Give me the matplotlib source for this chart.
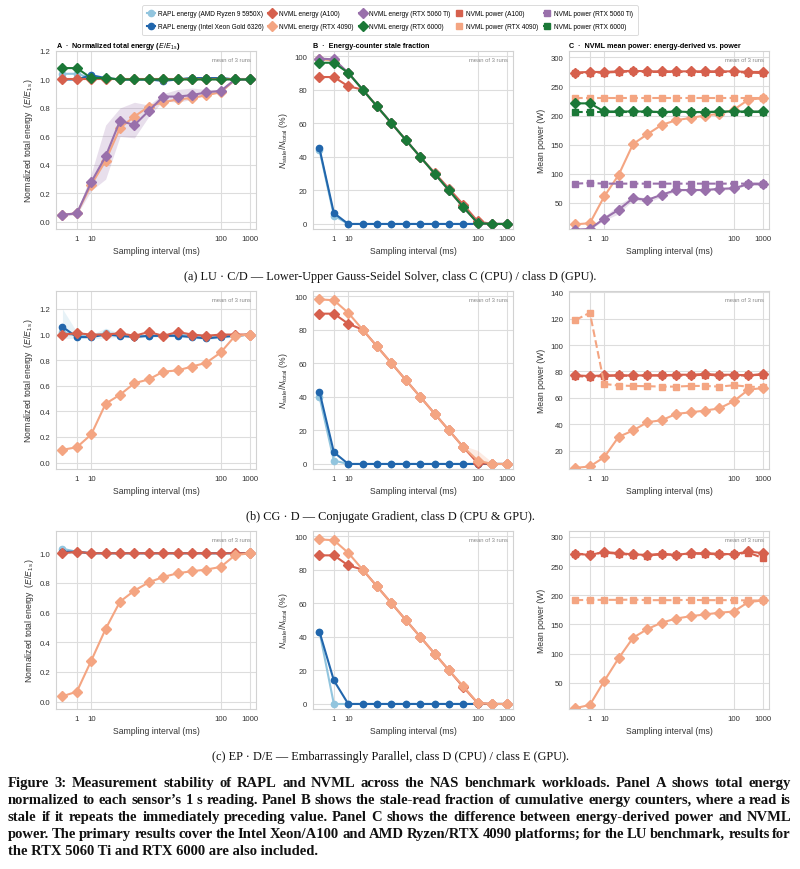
import numpy as np
import matplotlib.pyplot as plt

plt.rcParams['font.family'] = ['Liberation Sans', 'DejaVu Sans']
plt.rcParams['mathtext.fontset'] = 'custom'
plt.rcParams['mathtext.rm'] = 'Liberation Sans'
plt.rcParams['mathtext.it'] = 'Liberation Sans:italic'
plt.rcParams['mathtext.bf'] = 'Liberation Sans:bold'

# sampling intervals (ms), drawn as evenly spaced categories
intervals = [0.5, 1, 10, 20, 30, 40, 50, 60, 70, 80, 90, 100, 500, 1000]
tick_vals = [1, 10, 100, 1000]

# ---- LU (row a) ----
lu_e_amd = [1.04, 1.04, 1.01, 1.01, 1.00, 1.00, 1.00, 1.00, 1.00, 1.01, 1.01, 1.01, 1.00, 1.00]
lu_e_intel = [1.00, 1.00, 1.03, 1.01, 1.00, 1.00, 1.00, 0.99, 1.00, 1.01, 1.01, 1.01, 1.00, 1.00]
lu_e_a100 = [1.00, 1.00, 1.00, 1.00, 1.00, 1.00, 1.00, 1.00, 1.00, 1.00, 1.00, 1.00, 1.00, 1.00]
lu_e_4090 = [0.05, 0.06, 0.26, 0.43, 0.66, 0.74, 0.81, 0.84, 0.86, 0.87, 0.89, 0.91, 1.00, 1.00]
lu_e_5060 = [0.05, 0.06, 0.28, 0.46, 0.71, 0.68, 0.78, 0.88, 0.88, 0.89, 0.91, 0.92, 1.00, 1.00]
lu_e_5060_lo = [0.04, 0.05, 0.22, 0.30, 0.60, 0.59, 0.74, 0.85, 0.84, 0.86, 0.89, 0.91, 0.99, 1.00]
lu_e_5060_hi = [0.06, 0.07, 0.34, 0.68, 0.80, 0.84, 0.82, 0.90, 0.93, 0.94, 0.93, 0.93, 1.01, 1.00]
lu_e_6000 = [1.08, 1.08, 1.01, 1.01, 1.00, 1.00, 1.00, 1.00, 1.00, 1.00, 1.00, 1.00, 1.00, 1.00]

lu_s_amd = [44, 5, 0, 0, 0, 0, 0, 0, 0, 0, 0, 0, 0, 0]
lu_s_intel = [45, 6.5, 0, 0, 0, 0, 0, 0, 0, 0, 0, 0, 0, 0]
lu_s_a100 = [87.5, 87.5, 82, 80, 70, 60, 50, 40, 30.5, 21, 11.5, 1.5, 0, 0]
lu_s_4090 = [98, 97.5, 90, 80, 70, 60, 50, 40, 30, 20, 10, 0.5, 0, 0]
lu_s_5060 = [98.5, 98, 90, 80, 70, 60, 50, 40, 30, 20, 10, 0.5, 0, 0]
lu_s_6000 = [96, 96, 90, 80, 70, 60, 50, 40, 30, 20, 10, 0.5, 0, 0]

lu_pe_a100 = [274, 275, 275, 276, 277, 276, 276, 276, 276, 276, 276, 276, 275, 275]
lu_pp_a100 = [273, 274, 274, 275, 276, 275, 275, 275, 275, 275, 275, 275, 274, 273]
lu_pe_4090 = [13, 15, 61, 98, 151, 168, 184, 192, 196, 200, 203, 210, 227, 230]
lu_pp_4090 = [231, 231, 231, 231, 231, 231, 231, 231, 231, 231, 231, 231, 231, 231]
lu_pe_5060 = [4, 5, 23, 38, 58, 55, 64, 72, 72, 72, 74, 75, 82, 82]
lu_pe_5060_lo = [3, 4, 20, 31, 55, 51, 60, 70, 71, 71, 72, 73, 81, 81]
lu_pe_5060_hi = [5, 6, 26, 47, 62, 58, 66, 74, 74, 74, 76, 77, 83, 83]
lu_pp_5060 = [83, 84, 83, 83, 83, 83, 83, 83, 83, 83, 83, 83, 83, 83]
lu_pe_6000 = [221, 221, 207, 207, 207, 207, 206, 207, 206, 206, 207, 207, 207, 207]
lu_pp_6000 = [206, 206, 206, 206, 206, 206, 206, 206, 206, 206, 206, 206, 206, 206]

# ---- CG (row b) ----
cg_e_amd = [1.02, 0.99, 0.99, 1.01, 1.00, 0.99, 0.99, 0.99, 1.00, 0.99, 0.99, 0.99, 0.99, 1.00]
cg_e_amd_lo = [0.97, 0.97, 0.97, 0.97, 0.98, 0.97, 0.98, 0.98, 0.98, 0.97, 0.96, 0.97, 0.98, 1.00]
cg_e_amd_hi = [1.20, 1.02, 1.00, 1.05, 1.01, 1.00, 1.00, 1.00, 1.01, 1.00, 0.99, 1.00, 1.00, 1.00]
cg_e_intel = [1.06, 0.98, 0.98, 1.00, 0.99, 0.98, 0.99, 0.99, 0.99, 0.98, 0.97, 0.98, 0.99, 1.00]
cg_e_a100 = [1.00, 1.01, 1.00, 1.00, 1.01, 0.99, 1.02, 0.99, 1.02, 1.00, 0.99, 1.00, 1.00, 1.00]
cg_e_4090 = [0.10, 0.12, 0.22, 0.46, 0.53, 0.62, 0.65, 0.71, 0.72, 0.75, 0.78, 0.86, 0.99, 1.00]

cg_s_amd = [40, 2, 0, 0, 0, 0, 0, 0, 0, 0, 0, 0, 0, 0]
cg_s_intel = [43, 7, 0, 0, 0, 0, 0, 0, 0, 0, 0, 0, 0, 0]
cg_s_a100 = [89.5, 89.5, 83.5, 80, 70, 60, 50, 40, 30, 20, 10, 0.5, 0, 0]
cg_s_4090 = [98, 97.5, 90, 80, 70, 60, 50, 40, 30, 20, 10, 2, 0, 0]
cg_s_4090_lo = [98, 97.5, 90, 80, 70, 60, 50, 40, 30, 20, 9, 0, 0, 0]
cg_s_4090_hi = [98, 97.5, 90, 80, 70, 60, 50, 40, 30, 20, 11, 8, 1, 0]

cg_pe_a100 = [77, 76.5, 77, 77, 77, 77, 77, 77.5, 77.5, 78, 77.5, 77.5, 77, 78]
cg_pp_a100 = [76.5, 76, 76.5, 77, 76.5, 77, 77, 77, 77, 77.5, 77, 77, 77, 77.5]
cg_pe_4090 = [6.9, 7.9, 15, 30.4, 35.2, 41.5, 43, 47.8, 49, 50.3, 52, 57.4, 66, 67.5]
cg_pp_4090 = [119, 124.5, 70.5, 69.3, 69, 68.8, 68.5, 68.5, 69, 69, 68.5, 69.5, 68.5, 68]

# ---- EP (row c) ----
ep_e_amd = [1.03, 1.01, 1.00, 1.00, 1.00, 1.00, 1.00, 1.00, 1.00, 1.00, 1.00, 1.00, 1.00, 1.00]
ep_e_intel = [1.01, 1.01, 1.00, 1.00, 1.00, 1.00, 1.00, 1.00, 1.00, 1.00, 1.00, 1.00, 1.00, 1.00]
ep_e_a100 = [1.00, 1.01, 1.00, 1.00, 1.00, 1.00, 1.00, 1.00, 1.00, 1.00, 1.00, 1.00, 1.00, 1.00]
ep_e_4090 = [0.036, 0.067, 0.276, 0.49, 0.674, 0.748, 0.804, 0.84, 0.865, 0.879, 0.89, 0.908, 0.987, 1.00]

ep_s_amd = [43, 0, 0, 0, 0, 0, 0, 0, 0, 0, 0, 0, 0, 0]
ep_s_intel = [43, 14, 0, 0, 0, 0, 0, 0, 0, 0, 0, 0, 0, 0]
ep_s_a100 = [88.5, 88.5, 82.5, 80, 70, 60, 50, 40, 30, 20, 10, 0.5, 0, 0]
ep_s_4090 = [98, 97.5, 90, 80, 70, 60, 50, 40, 30, 20, 10.5, 0.5, 0, 0]

ep_pe_a100 = [271, 269, 274, 272, 270, 269, 271, 269, 272, 272, 271, 270, 275, 272]
ep_pp_a100 = [271, 270, 273, 271, 269, 268, 270, 269, 271, 271, 270, 270, 273, 264]
ep_pe_4090 = [6.5, 12, 53, 92, 127, 142, 153, 160, 164, 167, 170, 172, 188, 191]
ep_pp_4090 = [191.5, 192, 192, 192, 192.5, 191.5, 191.5, 191.5, 192, 191.5, 191.5, 191.5, 191, 191]

labels = ['RAPL energy (AMD Ryzen 9 5950X)', 'RAPL energy (Intel Xeon Gold 6326)',
          'NVML energy (A100)', 'NVML energy (RTX 4090)',
          'NVML energy (RTX 5060 Ti)', 'NVML energy (RTX 6000)',
          'NVML power (A100)', 'NVML power (RTX 4090)',
          'NVML power (RTX 5060 Ti)', 'NVML power (RTX 6000)']

c_amd, c_intel = '#92c5de', '#2166ac'
c_a100, c_4090 = '#d6604d', '#f4a582'
c_5060, c_6000 = '#9970ab', '#1b7837'

x = np.arange(len(intervals))
W, H = 800, 870
fig = plt.figure(figsize=(W / 100, H / 100), dpi=100)

tops = [52, 292, 532]
lefts = [56, 313, 569]
aw, ah = 200, 178


def add_ax(r, c):
    return fig.add_axes([lefts[c] / W, 1 - (tops[r] + ah) / H, aw / W, ah / H])


def line(ax, y, col, m, ls='-', lo=None, hi=None, ms=4.8, label=None):
    if lo is not None:
        ax.fill_between(x, lo, hi, color=col, alpha=0.22, lw=0)
    return ax.plot(x, y, ls=ls, color=col, marker=m, ms=ms, lw=1.5,
                   mec=col, label=label)[0]


def style(ax, ylim, yticks, fmt, ylabel):
    ax.set_xlim(-0.45, 13.45)
    ax.set_xticks([intervals.index(v) for v in tick_vals])
    ax.set_xticklabels([str(v) for v in tick_vals])
    ax.set_ylim(*ylim)
    ax.set_yticks(yticks)
    ax.set_yticklabels([fmt.format(v) for v in yticks])
    ax.grid(True, color='#dddddd', lw=0.8)
    ax.set_axisbelow(True)
    for s in ax.spines.values():
        s.set_color('#d2d2d2')
        s.set_linewidth(0.8)
    ax.tick_params(length=0, labelsize=5.6, colors='#333333', pad=4)
    ax.set_xlabel('Sampling interval (ms)', fontsize=6.2, color='#333333', labelpad=3)
    ax.set_ylabel(ylabel, fontsize=6.2, color='#333333', labelpad=3)
    ax.text(0.975, 0.965, 'mean of 3 runs', transform=ax.transAxes, ha='right',
            va='top', fontsize=4.2, color='#888888')


ylab_a = r'Normalized total energy  ($E/E_{1\,\mathrm{s}}$)'
ylab_b = r'$N_{\mathrm{stale}}/N_{\mathrm{total}}$ (%)'
ylab_c = 'Mean power (W)'

# row a: LU
ax = add_ax(0, 0)
h_amd = line(ax, lu_e_amd, c_amd, 'o', ms=4.5, label=labels[0])
h_intel = line(ax, lu_e_intel, c_intel, 'o', ms=4.5, label=labels[1])
h_ea = line(ax, lu_e_a100, c_a100, 'D', label=labels[2])
h_e4 = line(ax, lu_e_4090, c_4090, 'D', label=labels[3])
h_e5 = line(ax, lu_e_5060, c_5060, 'D', lo=lu_e_5060_lo, hi=lu_e_5060_hi, label=labels[4])
h_e6 = line(ax, lu_e_6000, c_6000, 'D', label=labels[5])
style(ax, (-0.05, 1.2), [0, 0.2, 0.4, 0.6, 0.8, 1.0, 1.2], '{:.1f}', ylab_a)
ax.set_title(r'A  ·  Normalized total energy ($E/E_{1\,\mathrm{s}}$)', loc='left',
             fontsize=5.2, fontweight='bold', pad=3)

ax = add_ax(0, 1)
line(ax, lu_s_amd, c_amd, 'o', ms=4.5)
line(ax, lu_s_intel, c_intel, 'o', ms=4.5)
line(ax, lu_s_a100, c_a100, 'D')
line(ax, lu_s_4090, c_4090, 'D')
line(ax, lu_s_5060, c_5060, 'D')
line(ax, lu_s_6000, c_6000, 'D')
style(ax, (-3, 103), [0, 20, 40, 60, 80, 100], '{:d}', ylab_b)
ax.set_title('B  ·  Energy-counter stale fraction', loc='left',
             fontsize=5.2, fontweight='bold', pad=3)

ax = add_ax(0, 2)
line(ax, lu_pe_a100, c_a100, 'D')
h_pa = line(ax, lu_pp_a100, c_a100, 's', ls='--', ms=4.5, label=labels[6])
line(ax, lu_pe_4090, c_4090, 'D')
h_p4 = line(ax, lu_pp_4090, c_4090, 's', ls='--', ms=4.5, label=labels[7])
line(ax, lu_pe_5060, c_5060, 'D', lo=lu_pe_5060_lo, hi=lu_pe_5060_hi)
h_p5 = line(ax, lu_pp_5060, c_5060, 's', ls='--', ms=4.5, label=labels[8])
line(ax, lu_pe_6000, c_6000, 'D')
h_p6 = line(ax, lu_pp_6000, c_6000, 's', ls='--', ms=4.5, label=labels[9])
style(ax, (5, 311), [50, 100, 150, 200, 250, 300], '{:d}', ylab_c)
ax.set_title('C  ·  NVML mean power: energy-derived vs. power', loc='left',
             fontsize=5.2, fontweight='bold', pad=3)

# row b: CG
ax = add_ax(1, 0)
line(ax, cg_e_amd, c_amd, 'o', ms=4.5, lo=cg_e_amd_lo, hi=cg_e_amd_hi)
line(ax, cg_e_intel, c_intel, 'o', ms=4.5)
line(ax, cg_e_a100, c_a100, 'D')
line(ax, cg_e_4090, c_4090, 'D')
style(ax, (-0.05, 1.34), [0, 0.2, 0.4, 0.6, 0.8, 1.0, 1.2], '{:.1f}', ylab_a)

ax = add_ax(1, 1)
line(ax, cg_s_amd, c_amd, 'o', ms=4.5)
line(ax, cg_s_intel, c_intel, 'o', ms=4.5)
line(ax, cg_s_a100, c_a100, 'D')
line(ax, cg_s_4090, c_4090, 'D', lo=cg_s_4090_lo, hi=cg_s_4090_hi)
style(ax, (-3, 103), [0, 20, 40, 60, 80, 100], '{:d}', ylab_b)

ax = add_ax(1, 2)
line(ax, cg_pe_a100, c_a100, 'D')
line(ax, cg_pp_a100, c_a100, 's', ls='--', ms=4.5)
line(ax, cg_pe_4090, c_4090, 'D')
line(ax, cg_pp_4090, c_4090, 's', ls='--', ms=4.5)
style(ax, (6, 141), [20, 40, 60, 80, 100, 120, 140], '{:d}', ylab_c)

# row c: EP
ax = add_ax(2, 0)
line(ax, ep_e_amd, c_amd, 'o', ms=4.5)
line(ax, ep_e_intel, c_intel, 'o', ms=4.5)
line(ax, ep_e_a100, c_a100, 'D')
line(ax, ep_e_4090, c_4090, 'D')
style(ax, (-0.05, 1.15), [0, 0.2, 0.4, 0.6, 0.8, 1.0], '{:.1f}', ylab_a)

ax = add_ax(2, 1)
line(ax, ep_s_amd, c_amd, 'o', ms=4.5)
line(ax, ep_s_intel, c_intel, 'o', ms=4.5)
line(ax, ep_s_a100, c_a100, 'D')
line(ax, ep_s_4090, c_4090, 'D')
style(ax, (-3, 103), [0, 20, 40, 60, 80, 100], '{:d}', ylab_b)

ax = add_ax(2, 2)
line(ax, ep_pe_a100, c_a100, 'D')
line(ax, ep_pp_a100, c_a100, 's', ls='--', ms=4.5)
line(ax, ep_pe_4090, c_4090, 'D')
line(ax, ep_pp_4090, c_4090, 's', ls='--', ms=4.5)
style(ax, (5, 310), [50, 100, 150, 200, 250, 300], '{:d}', ylab_c)

# shared legend
handles = [h_amd, h_intel, h_ea, h_e4, h_e5, h_e6, h_pa, h_p4, h_p5, h_p6]
leg = fig.legend(handles, labels, loc='upper center', bbox_to_anchor=(390 / W, 1 - 3 / H),
                 ncol=5, fontsize=4.7, frameon=True, handlelength=1.2, handletextpad=0.4,
                 columnspacing=0.8, borderpad=0.7, labelspacing=1.0, fancybox=True)
leg.get_frame().set_edgecolor('#cccccc')
leg.get_frame().set_linewidth(0.6)

# sub-captions
serif = ['Liberation Serif', 'DejaVu Serif']
subcaps = ['(a) LU · C/D — Lower-Upper Gauss-Seidel Solver, class C (CPU) / class D (GPU).',
           '(b) CG · D — Conjugate Gradient, class D (CPU & GPU).',
           '(c) EP · D/E — Embarrassingly Parallel, class D (CPU) / class E (GPU).']
for cap, yy in zip(subcaps, [277, 517, 757]):
    fig.text(390 / W, 1 - yy / H, cap, ha='center', va='center', fontsize=8.8,
             family=serif, color='#111111')

# figure caption, justified
cap_lines = [
    'Figure 3: Measurement stability of RAPL and NVML across the NAS benchmark workloads. Panel A shows total energy',
    'normalized to each sensor\u2019s 1\u00a0s reading. Panel B shows the stale-read fraction of cumulative energy counters, where a read is',
    'stale if it repeats the immediately preceding value. Panel C shows the difference between energy-derived power and NVML',
    'power. The primary results cover the Intel Xeon/A100 and AMD Ryzen/RTX 4090 platforms; for the LU benchmark, results for',
    'the RTX 5060 Ti and RTX 6000 are also included.',
]
renderer = fig.canvas.get_renderer()
x0, x1 = 8, 791
for i, text in enumerate(cap_lines):
    yy = 1 - (787 + 17 * i) / H
    kw = dict(fontsize=10.5, family=serif, fontweight='bold', va='baseline', color='#111111')
    if i == len(cap_lines) - 1:
        fig.text(x0 / W, yy, text, **kw)
        continue
    words = text.split(' ')
    ts = [fig.text(0, yy, w, **kw) for w in words]
    ws = [t.get_window_extent(renderer).width for t in ts]
    gap = (x1 - x0 - sum(ws)) / (len(words) - 1)
    xx = x0
    for t, w in zip(ts, ws):
        t.set_x(xx / W)
        xx += w + gap

fig.savefig('out.png', dpi=100)
